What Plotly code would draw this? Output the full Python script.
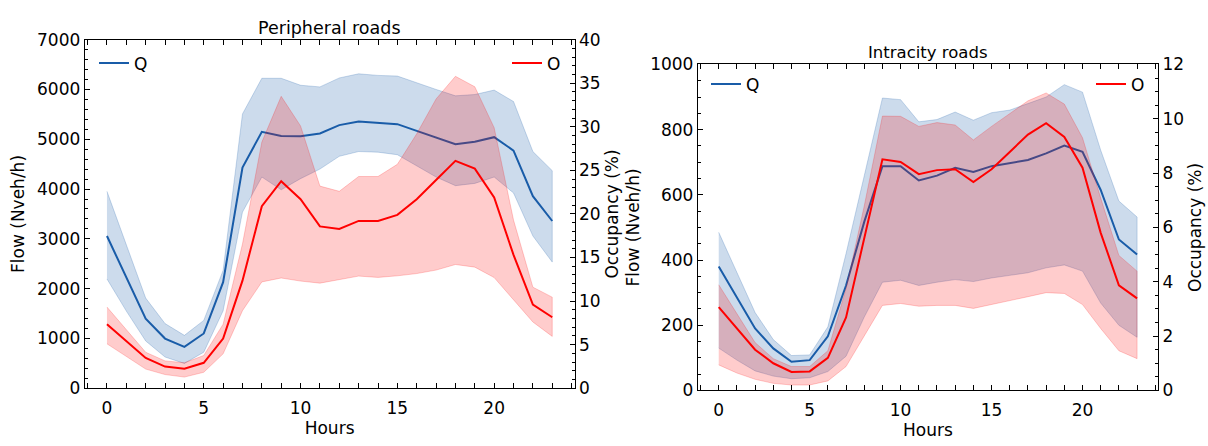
import plotly.graph_objects as go

hours = list(range(24))

# Peripheral roads
per_q_mean = [3058, 2230, 1395, 998, 832, 1100, 2130, 4434, 5150, 5067, 5061, 5118,
              5285, 5355, 5323, 5304, 5170, 5029, 4901, 4952, 5042, 4773, 3858, 3359]
per_q_upper = [3954, 2880, 1811, 1299, 1062, 1363, 2367, 5509, 6225, 6225, 6085, 6052,
               6232, 6315, 6283, 6270, 6129, 6001, 5873, 5899, 5988, 5758, 4754, 4370]
per_q_lower = [2195, 1550, 950, 627, 499, 723, 1555, 3538, 4242, 3986, 4210, 4402,
               4658, 4754, 4741, 4690, 4466, 4242, 4069, 4114, 4242, 3922, 3058, 2534]
per_o_mean = [7.35, 5.4, 3.47, 2.49, 2.23, 2.92, 5.70, 12.35, 20.9, 23.76, 21.7, 18.57,
              18.27, 19.2, 19.2, 19.9, 21.7, 23.9, 26.1, 25.2, 21.9, 15.3, 9.6, 8.15]
per_o_upper = [9.32, 6.7, 4.13, 3.14, 2.92, 3.76, 7.35, 16.56, 28.25, 33.5, 30.1, 23.2,
               22.6, 24.3, 24.3, 25.7, 29.2, 33.2, 35.8, 34.6, 29.9, 19.3, 11.6, 10.45]
per_o_lower = [5.1, 3.6, 2.2, 1.57, 1.28, 1.83, 3.95, 8.9, 12.2, 12.65, 12.3, 12.06,
               12.5, 12.87, 12.72, 12.9, 13.16, 13.56, 14.2, 13.9, 12.7, 10.2, 7.6, 5.95]

# Intracity roads
int_q_mean = [380, 285, 190, 129, 88, 93, 166, 322, 517, 688, 688, 644,
              659, 683, 670, 688, 698, 707, 727, 751, 732, 615, 463, 417]
int_q_upper = [485, 361, 239, 156, 107, 109, 195, 420, 663, 897, 892, 824,
               831, 854, 829, 852, 860, 880, 900, 938, 915, 737, 581, 532]
int_q_lower = [130, 93, 60, 44, 36, 39, 58, 105, 225, 332, 338, 322,
               332, 340, 334, 345, 353, 361, 376, 385, 366, 268, 200, 163]
int_o_mean = [3.07, 2.28, 1.50, 1.0, 0.68, 0.70, 1.2, 2.69, 5.6, 8.51, 8.41, 7.96,
              8.11, 8.14, 7.67, 8.14, 8.78, 9.42, 9.84, 9.33, 8.2, 5.8, 3.87, 3.39]
int_o_upper = [3.89, 2.81, 1.76, 1.17, 0.88, 0.88, 1.46, 3.75, 6.79, 10.1, 10.09, 9.72,
               9.86, 9.77, 9.22, 9.72, 10.19, 10.66, 10.95, 10.54, 9.3, 7.08, 4.97, 4.39]
int_o_lower = [0.94, 0.64, 0.41, 0.26, 0.2, 0.2, 0.35, 0.88, 1.99, 3.13, 3.2, 3.1,
               3.13, 3.13, 3.02, 3.16, 3.3, 3.45, 3.6, 3.57, 3.16, 2.28, 1.46, 1.17]

BLUE = "rgb(25,92,168)"
BLUE_FILL = "rgba(25,92,168,0.22)"
RED = "rgb(255,0,0)"
RED_FILL = "rgba(255,0,0,0.2)"
FONT = "DejaVu Sans"
FS = 17
W, H = 1208, 446

fig = go.Figure()


def band(x, upper, lower, fill, xa, ya):
    fig.add_trace(go.Scatter(
        x=list(x) + list(x)[::-1], y=list(upper) + list(lower)[::-1],
        fill="toself", fillcolor=fill, mode="lines",
        line=dict(color=fill, width=1), hoverinfo="skip", showlegend=False,
        xaxis=xa, yaxis=ya))


def line(x, y, color, name, xa, ya, leg):
    fig.add_trace(go.Scatter(
        x=x, y=y, mode="lines", line=dict(color=color, width=2),
        name=name, legend=leg, xaxis=xa, yaxis=ya))


# Peripheral
band(hours, per_q_upper, per_q_lower, BLUE_FILL, "x", "y")
line(hours, per_q_mean, BLUE, "Q", "x", "y", "legend")
band(hours, per_o_upper, per_o_lower, RED_FILL, "x", "y2")
line(hours, per_o_mean, RED, "O", "x", "y2", "legend2")

# Intracity
band(hours, int_q_upper, int_q_lower, BLUE_FILL, "x2", "y3")
line(hours, int_q_mean, BLUE, "Q", "x2", "y3", "legend3")
band(hours, int_o_upper, int_o_lower, RED_FILL, "x2", "y4")
line(hours, int_o_mean, RED, "O", "x2", "y4", "legend4")


def px(v):
    return v / W


def py(v):
    return 1 - v / H


tickfont = dict(family=FONT, size=FS, color="black")
titlefont = dict(family=FONT, size=FS, color="black")

common = dict(showline=True, linecolor="black", linewidth=1, ticks="inside",
              ticklen=5, tickwidth=1, tickcolor="black", showgrid=False,
              zeroline=False, tickfont=tickfont)


def xax(domain, anchor):
    return dict(domain=domain, anchor=anchor, range=[-1.15, 24.15],
                tickvals=[0, 5, 10, 15, 20], mirror="allticks", ticklabelstandoff=4,
                minor=dict(ticks="inside", ticklen=3, dtick=1, tick0=0,
                           tickcolor="black", showgrid=False),
                title=dict(text="Hours", font=titlefont, standoff=4), **common)


fig.update_layout(
    width=W, height=H, margin=dict(l=0, r=0, t=0, b=0),
    paper_bgcolor="white", plot_bgcolor="white",
    font=dict(family=FONT, size=FS, color="black"),
    xaxis=xax([px(84.7), px(574.5)], "y"),
    yaxis=dict(domain=[py(396), py(31.1)], anchor="x", range=[0, 7000], dtick=1000,
               minor=dict(ticks="inside", ticklen=3, dtick=200, tickcolor="black", showgrid=False),
               title=dict(text="Flow (Nveh/h)", font=titlefont, standoff=8), **common),
    yaxis2=dict(overlaying="y", side="right", anchor="x", range=[0, 40], dtick=5,
                minor=dict(ticks="inside", ticklen=3, dtick=1, tickcolor="black", showgrid=False),
                title=dict(text="Occupancy (%)", font=titlefont, standoff=6), **common),
    xaxis2=xax([px(697.8), px(1158)], "y3"),
    yaxis3=dict(domain=[py(398.3), py(57)], anchor="x2", range=[0, 1000], dtick=200,
                minor=dict(ticks="inside", ticklen=3, dtick=50, tickcolor="black", showgrid=False),
                title=dict(text="Flow (Nveh/h)", font=titlefont, standoff=6), **common),
    yaxis4=dict(overlaying="y3", side="right", anchor="x2", range=[0, 12], dtick=2,
                minor=dict(ticks="inside", ticklen=3, dtick=0.5, tickcolor="black", showgrid=False),
                title=dict(text="Occupancy (%)", font=titlefont, standoff=6), **common),
    legend=dict(x=px(94), y=py(56), xanchor="left", yanchor="middle",
                bgcolor="rgba(0,0,0,0)", font=dict(family=FONT, size=FS)),
    legend2=dict(x=px(566), y=py(56), xanchor="right", yanchor="middle",
                 bgcolor="rgba(0,0,0,0)", font=dict(family=FONT, size=FS)),
    legend3=dict(x=px(706), y=py(78), xanchor="left", yanchor="middle",
                 bgcolor="rgba(0,0,0,0)", font=dict(family=FONT, size=FS)),
    legend4=dict(x=px(1150), y=py(78), xanchor="right", yanchor="middle",
                 bgcolor="rgba(0,0,0,0)", font=dict(family=FONT, size=FS)),
    annotations=[
        dict(text="Peripheral roads", x=px(329.6), y=py(19), xref="paper", yref="paper",
             showarrow=False, xanchor="center", yanchor="middle",
             font=dict(family=FONT, size=17.5, color="black")),
        dict(text="Intracity roads", x=px(928), y=py(44), xref="paper", yref="paper",
             showarrow=False, xanchor="center", yanchor="middle",
             font=dict(family=FONT, size=16.5, color="black")),
    ],
)

fig.write_html("out.html")
